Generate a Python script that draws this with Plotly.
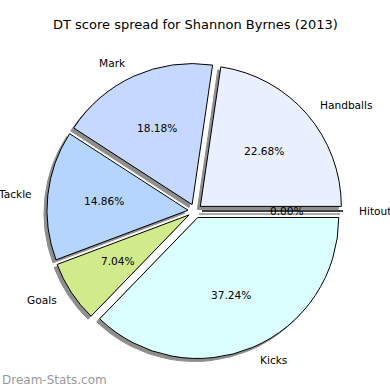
import numpy as np
import plotly.graph_objects as go

# ---- data ----
labels = ["Handballs", "Mark", "Tackle", "Goals", "Kicks", "Hitout"]
values = [22.68, 18.18, 14.86, 7.04, 37.24, 0.00]
colors = ["#eaf0ff", "#c6d8ff", "#b5d5ff", "#d1ea8b", "#dbffff", "#ffffff"]
title = "DT score spread for Shannon Byrnes (2013)"
watermark = "Dream-Stats.com"

# ---- layout geometry ----
W = H = 390
cx, cy = 195, 211          # pie centre in px (from top-left)
R = 141                    # pie radius in px
pull = 0.05
half = R * (1 + pull)
shadow_dx, shadow_dy = -3, 3

vals = np.array(values, dtype=float)
frac = vals / vals.sum()
ends = np.cumsum(frac) * 360.0
starts = ends - frac * 360.0
# plotly (counterclockwise): first slice's ccw end sits at `rotation`
rotation = 90 - frac[0] * 360.0


def dom(dx=0, dy=0):
    x0 = (cx + dx - half) / W
    x1 = (cx + dx + half) / W
    y0 = (H - (cy + dy) - half) / H
    y1 = (H - (cy + dy) + half) / H
    return dict(x=[x0, x1], y=[y0, y1])


fig = go.Figure()
fig.add_trace(go.Pie(
    labels=labels, values=values, sort=False, direction="counterclockwise",
    rotation=rotation, pull=[pull] * len(values), textinfo="none", hoverinfo="skip",
    marker=dict(colors=["#8e8e8e"] * len(values), line=dict(color="#8e8e8e", width=1)),
    domain=dom(shadow_dx, shadow_dy), showlegend=False,
))
fig.add_trace(go.Pie(
    labels=labels, values=values, sort=False, direction="counterclockwise",
    rotation=rotation, pull=[pull] * len(values), textinfo="none",
    marker=dict(colors=colors, line=dict(color="black", width=1)),
    domain=dom(), showlegend=False,
))

# ---- labels, computed from data like matplotlib ----
annotations = []
for lab, f, a0, a1 in zip(labels, frac, starts, ends):
    mid = np.deg2rad((a0 + a1) / 2)
    c, s = np.cos(mid), np.sin(mid)
    ex, ey = cx + pull * R * c, cy - pull * R * s
    lx, ly = ex + 1.1 * R * c, ey - 1.1 * R * s
    px, py = ex + 0.6 * R * c, ey - 0.6 * R * s
    annotations.append(dict(x=lx / W, y=1 - ly / H, xref="paper", yref="paper",
                            text=lab, showarrow=False,
                            xanchor="left" if c > 0 else "right", yanchor="middle",
                            font=dict(size=10.6, color="black")))
    annotations.append(dict(x=px / W, y=1 - py / H, xref="paper", yref="paper",
                            text=f"{f*100:.2f}%", showarrow=False,
                            xanchor="center", yanchor="middle",
                            font=dict(size=10.6, color="black")))

annotations.append(dict(x=195 / W, y=1 - 25 / H, xref="paper", yref="paper",
                        text=title, showarrow=False, xanchor="center", yanchor="middle",
                        font=dict(size=13, color="black")))
annotations.append(dict(x=0, y=1 - 380 / H, xref="paper", yref="paper",
                        text=watermark, showarrow=False, xanchor="left", yanchor="middle",
                        font=dict(size=12, color="#999999")))

fig.update_layout(
    width=W, height=H, margin=dict(l=0, r=0, t=0, b=0),
    paper_bgcolor="white", plot_bgcolor="white",
    font=dict(family="DejaVu Sans"),
    annotations=annotations,
)
fig.write_html("out.html")
